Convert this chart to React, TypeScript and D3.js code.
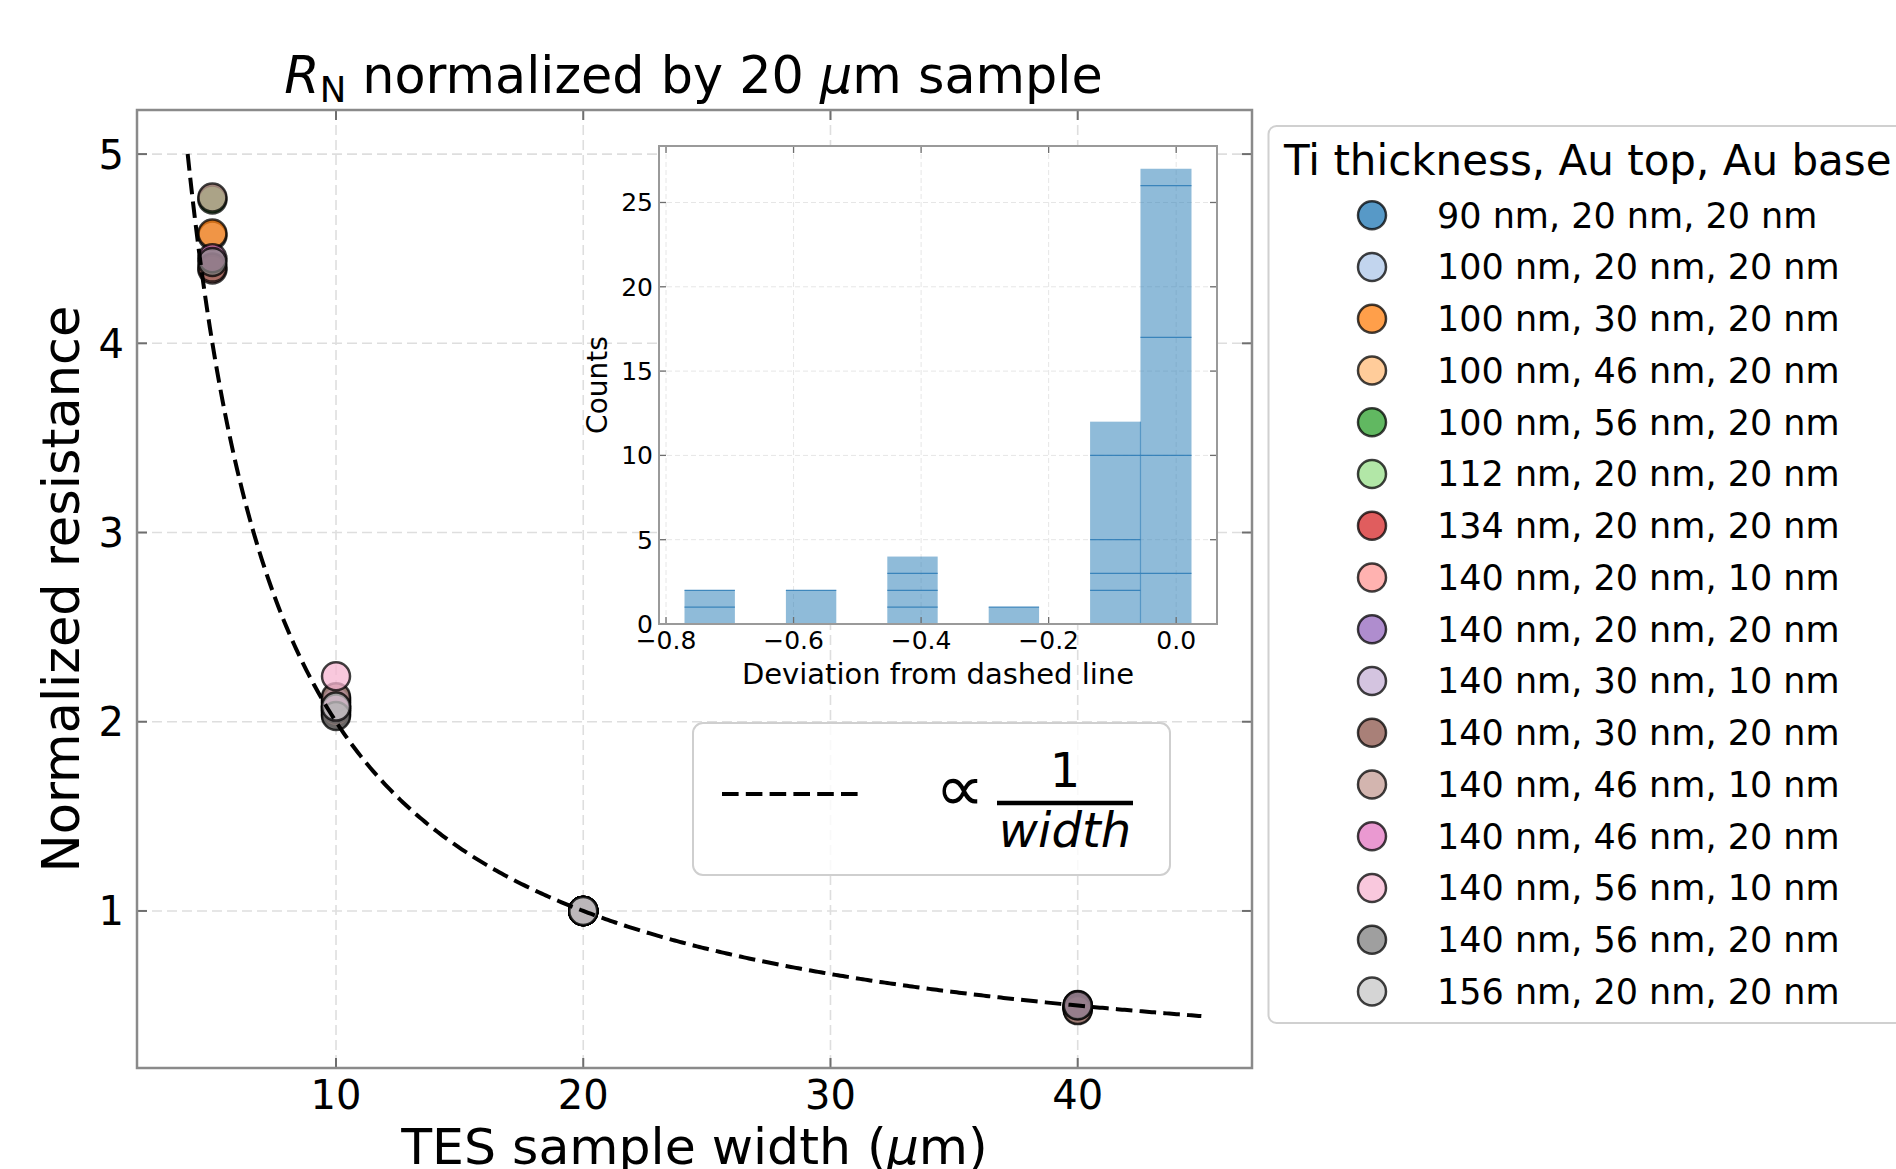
import React from "react";
import * as d3 from "d3";

// ---------- data ----------
const seriesLabels = [
  "90 nm, 20 nm, 20 nm",
  "100 nm, 20 nm, 20 nm",
  "100 nm, 30 nm, 20 nm",
  "100 nm, 46 nm, 20 nm",
  "100 nm, 56 nm, 20 nm",
  "112 nm, 20 nm, 20 nm",
  "134 nm, 20 nm, 20 nm",
  "140 nm, 20 nm, 10 nm",
  "140 nm, 20 nm, 20 nm",
  "140 nm, 30 nm, 10 nm",
  "140 nm, 30 nm, 20 nm",
  "140 nm, 46 nm, 10 nm",
  "140 nm, 46 nm, 20 nm",
  "140 nm, 56 nm, 10 nm",
  "140 nm, 56 nm, 20 nm",
  "156 nm, 20 nm, 20 nm",
];
const seriesColors = [
  "#1f77b4", "#aec7e8", "#ff7f0e", "#ffbb78", "#2ca02c", "#98df8a", "#d62728", "#ff9896",
  "#9467bd", "#c5b0d5", "#8c564b", "#c49c94", "#e377c2", "#f7b6d2", "#7f7f7f", "#c7c7c7",
];
const sampleWidths = [5, 10, 20, 40];
// normalized resistance per series at each width (null = not measured)
const rAt5: (number | null)[] = [null, 4.57, 4.58, null, 4.76, null, null, 4.39, null, null, 4.4, 4.771, 4.45, null, 4.43, null];
const rAt10: (number | null)[] = [2.06, 2.08, 2.1, 2.07, 2.12, 2.09, 2.06, 2.04, 2.11, 2.08, 2.05, 2.13, 2.07, 2.24, 2.03, 2.08];
const rAt20: (number | null)[] = [1, 1, 1, 1, 1, 1, 1, 1, 1, 1, 1, 1, 1, 1, 1, 1];
const rAt40: (number | null)[] = [null, 0.49, 0.5, null, 0.495, null, null, 0.48, null, null, 0.485, 0.476, 0.503, null, 0.5, null];

// 1/width reference curve
const fitCoef = 20;
const fitRange = [4, 45];

const xTicks = [10, 20, 30, 40];
const yTicks = [1, 2, 3, 4, 5];

// inset histogram
const histEdges = [-0.771, -0.692, -0.612, -0.533, -0.453, -0.374, -0.294, -0.215, -0.135, -0.056, 0.024];
const histCounts = [2, 0, 2, 0, 4, 0, 1, 0, 12, 27];
const histInnerLines: number[][] = [[1, 2], [], [2], [], [1, 2, 3], [], [1], [], [2, 3, 5, 10], [3, 10, 17, 26]];
const insetXTicks = [-0.8, -0.6, -0.4, -0.2, 0.0];
const insetYTicks = [0, 5, 10, 15, 20, 25];

// ---------- layout ----------
const W = 1896, H = 1169;
const FONT = "DejaVu Sans";
const AX = { left: 137, right: 1252, top: 110, bottom: 1068 };
const IN = { left: 659, right: 1217, top: 146, bottom: 624 };

const fmtInset = (v: number) => (v < 0 ? "\u2212" : "") + Math.abs(v).toFixed(1);

export default function App() {
  const x = d3.scaleLinear().domain([1.95, 47.05]).range([AX.left, AX.right]);
  const y = d3.scaleLinear().domain([0.17, 5.233]).range([AX.bottom, AX.top]);
  const xi = d3.scaleLinear().domain([-0.811, 0.064]).range([IN.left, IN.right]);
  const yi = d3.scaleLinear().domain([0, 28.35]).range([IN.bottom, IN.top]);

  const fitXs = d3.range(fitRange[0], fitRange[1] + 0.001, 0.1);
  const fitLine = d3
    .line<number>()
    .x((d) => x(d))
    .y((d) => y(fitCoef / d))(fitXs) as string;

  const rByWidth = [rAt5, rAt10, rAt20, rAt40];

  const spine = "#8a8a8a";
  const tickCol = "#6e6e6e";

  return (
    <svg width={W} height={H} style={{ position: "absolute", left: 0, top: 0, background: "#fff" }} fontFamily={FONT}>
      <rect x={0} y={0} width={W} height={H} fill="#fff" />
      {/* main grid */}
      {xTicks.map((t) => (
        <line key={"gx" + t} x1={x(t)} x2={x(t)} y1={AX.top} y2={AX.bottom} stroke="#dedede" strokeWidth={1.6} strokeDasharray="10 5" />
      ))}
      {yTicks.map((t) => (
        <line key={"gy" + t} x1={AX.left} x2={AX.right} y1={y(t)} y2={y(t)} stroke="#dedede" strokeWidth={1.6} strokeDasharray="10 5" />
      ))}

      {/* inset axes */}
      <rect x={IN.left} y={IN.top} width={IN.right - IN.left} height={IN.bottom - IN.top} fill="#fff" />
      {insetXTicks.map((t) => (
        <line key={"igx" + t} x1={xi(t)} x2={xi(t)} y1={IN.top} y2={IN.bottom} stroke="#e6e6e6" strokeWidth={1} strokeDasharray="5 3" />
      ))}
      {insetYTicks.map((t) => (
        <line key={"igy" + t} x1={IN.left} x2={IN.right} y1={yi(t)} y2={yi(t)} stroke="#e6e6e6" strokeWidth={1} strokeDasharray="5 3" />
      ))}
      {histCounts.map((c, i) =>
        c > 0 ? (
          <rect key={"hb" + i} x={xi(histEdges[i])} y={yi(c)} width={xi(histEdges[i + 1]) - xi(histEdges[i])} height={yi(0) - yi(c)} fill="#1f77b4" fillOpacity={0.5} />
        ) : null
      )}
      {histInnerLines.map((levels, i) =>
        levels.map((lv) => (
          <line key={"hl" + i + "-" + lv} x1={xi(histEdges[i])} x2={xi(histEdges[i + 1])} y1={yi(lv)} y2={yi(lv)} stroke="#2a7ab5" strokeWidth={1.3} strokeOpacity={0.85} />
        ))
      )}
      <line x1={xi(histEdges[9])} x2={xi(histEdges[9])} y1={yi(histCounts[8])} y2={yi(0)} stroke="#2a7ab5" strokeWidth={1.2} strokeOpacity={0.6} />
      {/* inset ticks */}
      {insetXTicks.map((t) => (
        <g key={"ixt" + t}>
          <line x1={xi(t)} x2={xi(t)} y1={IN.bottom} y2={IN.bottom - 7} stroke={tickCol} strokeWidth={1.3} />
          <line x1={xi(t)} x2={xi(t)} y1={IN.top} y2={IN.top + 7} stroke={tickCol} strokeWidth={1.3} />
          <text x={xi(t)} y={649} fontSize={25} textAnchor="middle">{fmtInset(t)}</text>
        </g>
      ))}
      {insetYTicks.map((t) => (
        <g key={"iyt" + t}>
          <line x1={IN.left} x2={IN.left + 7} y1={yi(t)} y2={yi(t)} stroke={tickCol} strokeWidth={1.3} />
          <line x1={IN.right} x2={IN.right - 7} y1={yi(t)} y2={yi(t)} stroke={tickCol} strokeWidth={1.3} />
          <text x={653} y={yi(t) + 9} fontSize={25} textAnchor="end">{t}</text>
        </g>
      ))}
      <rect x={IN.left} y={IN.top} width={IN.right - IN.left} height={IN.bottom - IN.top} fill="none" stroke="#9a9a9a" strokeWidth={2} />
      <text x={938} y={684} fontSize={29} textAnchor="middle">Deviation from dashed line</text>
      <text transform={`translate(607, ${(IN.top + IN.bottom) / 2}) rotate(-90)`} fontSize={28} textAnchor="middle">Counts</text>

      {/* data points */}
      {seriesLabels.map((lab, s) => (
        <g key={"s" + s}>
          {sampleWidths.map((w, k) => {
            const v = rByWidth[k][s];
            if (v === null) return null;
            return (
              <circle key={w} cx={x(w)} cy={y(v)} r={14} fill={seriesColors[s]} fillOpacity={0.75} stroke="#000" strokeOpacity={0.75} strokeWidth={2.5} />
            );
          })}
        </g>
      ))}

      {/* fit line */}
      <path d={fitLine} fill="none" stroke="#000" strokeWidth={4} strokeDasharray="16.6 7.2" />

      {/* inset legend */}
      <rect x={693} y={723} width={477} height={152} rx={10} fill="#fff" fillOpacity={0.8} stroke="#cfcfcf" strokeWidth={2} />
      <line x1={722} x2={863} y1={794} y2={794} stroke="#000" strokeWidth={4} strokeDasharray="16.6 7.2" />
      <text transform="translate(935, 811) scale(1.45, 1.38)" fontSize={48}>∝</text>
      <text x={1065} y={787} fontSize={48} textAnchor="middle">1</text>
      <line x1={997} x2={1133} y1={803} y2={803} stroke="#000" strokeWidth={4.5} />
      <text x={1065} y={847} fontSize={48} textAnchor="middle" fontStyle="italic">width</text>

      {/* main spines and ticks */}
      {xTicks.map((t) => (
        <g key={"xt" + t}>
          <line x1={x(t)} x2={x(t)} y1={AX.bottom} y2={AX.bottom - 10} stroke={tickCol} strokeWidth={2} />
          <line x1={x(t)} x2={x(t)} y1={AX.top} y2={AX.top + 10} stroke={tickCol} strokeWidth={2} />
          <text x={x(t)} y={1109} fontSize={40} textAnchor="middle">{t}</text>
        </g>
      ))}
      {yTicks.map((t) => (
        <g key={"yt" + t}>
          <line x1={AX.left} x2={AX.left + 10} y1={y(t)} y2={y(t)} stroke={tickCol} strokeWidth={2} />
          <line x1={AX.right} x2={AX.right - 10} y1={y(t)} y2={y(t)} stroke={tickCol} strokeWidth={2} />
          <text x={124} y={y(t) + 14.5} fontSize={40} textAnchor="end">{t}</text>
        </g>
      ))}
      <rect x={AX.left} y={AX.top} width={AX.right - AX.left} height={AX.bottom - AX.top} fill="none" stroke={spine} strokeWidth={2.5} />

      {/* axis labels and title */}
      <text x={(AX.left + AX.right) / 2} y={1164} fontSize={50.5} textAnchor="middle" style={{ whiteSpace: "pre" }}>
        TES sample width (<tspan fontStyle="italic">μ</tspan>m)
      </text>
      <text transform={`translate(79, ${(AX.top + AX.bottom) / 2}) rotate(-90)`} fontSize={51} textAnchor="middle">
        Normalized resistance
      </text>
      <text x={(AX.left + AX.right) / 2 - 1} y={93} fontSize={50.8} textAnchor="middle" style={{ whiteSpace: "pre" }}>
        <tspan fontStyle="italic">R</tspan>
        <tspan fontSize={35.5} dy={9}>N</tspan>
        <tspan dy={-9}> normalized by 20 </tspan>
        <tspan fontStyle="italic">μ</tspan>
        <tspan>m sample</tspan>
      </text>

      {/* legend */}
      <rect x={1268.5} y={126} width={700} height={897} rx={8} fill="#fff" stroke="#d0d0d0" strokeWidth={2} />
      <text x={1284} y={175} fontSize={42}>Ti thickness, Au top, Au base</text>
      {seriesLabels.map((lab, s) => {
        const cy = 215.2 + s * 51.75;
        return (
          <g key={"lg" + s}>
            <circle cx={1372} cy={cy} r={14} fill={seriesColors[s]} fillOpacity={0.75} stroke="#000" strokeOpacity={0.75} strokeWidth={2.5} />
            <text x={1437} y={cy + 12.5} fontSize={35}>{lab}</text>
          </g>
        );
      })}
    </svg>
  );
}
